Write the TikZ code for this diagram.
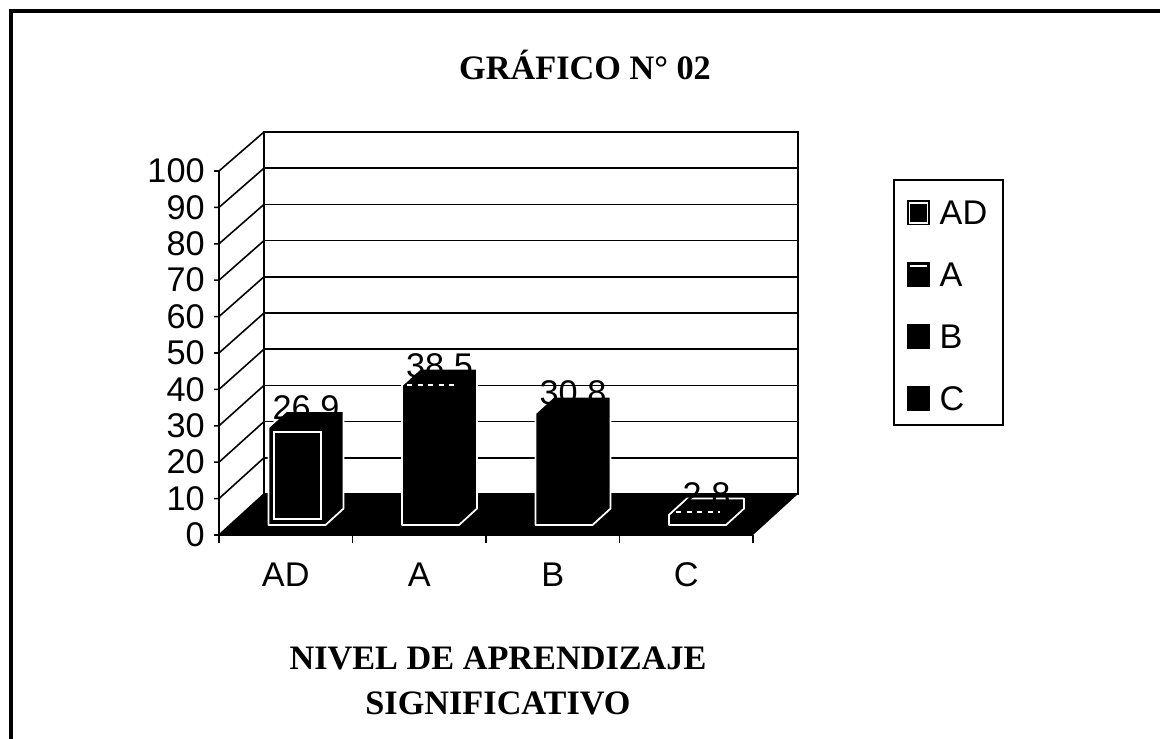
\documentclass[tikz,border=0pt]{standalone}
\usepackage{fontspec}
\setmainfont{Liberation Serif}
\newfontfamily\arialfont{Liberation Sans}
\usepackage{tikz}
\usetikzlibrary{positioning}

\begin{document}
\begin{tikzpicture}[x=0.02cm,y=-0.02cm,
    numlabel/.style={font=\arialfont\fontsize{19.5}{22}\selectfont,inner sep=0pt},
    headlabel/.style={font=\bfseries\fontsize{19.5}{26}\selectfont,inner sep=0pt,align=center},
    gridline/.style={line width=0.9pt},
    barface/.style={fill=black,draw=white,line width=1pt,line join=round},
    swatch/.style={fill=black,minimum width=0.46cm,minimum height=0.5cm,inner sep=0pt}]

        % Page
        \useasboundingbox (0,0) rectangle (1160,739);
        \draw[line width=1.8pt] (11,739) -- (11,11) -- (1160,11);

        % Title
        \node[headlabel] (title) at (585,65) {GRÁFICO N° 02};

        % Back wall and gridlines
        \draw[gridline] (264,132) rectangle (798,494);
        \foreach \v in {10,20,...,90} {
            \draw[gridline] (264,{494-3.62*\v}) -- (798,{494-3.62*\v});
        }

        % Side wall: axis, ticks, diagonals
        \draw[gridline] (219,171) -- (219,535);
        \foreach \v in {0,10,...,100} {
            \draw[gridline] (214,{535-3.64*\v}) -- (219,{535-3.64*\v}) -- (264,{494-3.62*\v});
            \node[numlabel,anchor=east] (y\v) at (205,{535-3.64*\v}) {\v};
        }

        % Floor
        \fill[black] (219,535) -- (753,535) -- (798,494) -- (264,494) -- cycle;
        \draw[gridline] (219,535) -- (753,535);
        \foreach \k in {0,...,4} {
            \draw[gridline] ({219+133.5*\k},535) -- ({219+133.5*\k},543);
        }

        % Bars
        \foreach \name/\k/\val in {AD/0/26.9, A/1/38.5, B/2/30.8, C/3/2.8} {
            \pgfmathsetmacro{\xl}{268.5+133.5*\k}
            \pgfmathsetmacro{\xr}{\xl+57}
            \pgfmathsetmacro{\h}{3.63*\val}
            \draw[barface] (\xl,525) -- (\xr,525) -- ({\xr+18},508.6) -- ({\xr+18},{508.6-\h})
                -- ({\xl+18},{508.6-\h}) -- (\xl,{525-\h}) -- cycle;
            \node[numlabel,anchor=base] (v\name) at ({\xl+37.5},{516.8-\h}) {\val};
        }
        % pattern lines on the bars
        \draw[white,line width=1pt] (274,432) rectangle (321,519);
        \draw[white,line width=1pt,dashed] (407,385) -- (457,385);
        \draw[white,line width=1pt,dashed] (676,512) -- (720,512);

        % Category labels
        \foreach \name/\k in {AD/0, A/1, B/2, C/3} {
            \node[numlabel] (x\name) at ({285.75+133.5*\k},575) {\name};
        }

        % Legend
        \draw[line width=1pt] (894,180) rectangle (1003,425);
        \foreach \name/\y in {AD/213, A/275, B/337, C/399} {
            \node[swatch] (sw\name) at (918.5,\y) {};
            \node[numlabel,right=0.18cm of sw\name] (lg\name) {\name};
        }
        \draw[white,line width=0.8pt] ([shift={(3,-3)}]swAD.south west) rectangle ([shift={(-3,3)}]swAD.north east);
        \draw[white,line width=0.8pt] ([shift={(3,4)}]swA.north west) -- ([shift={(-3,4)}]swA.north east);

        % Axis title
        \node[headlabel] (xtitle) at (498,681) {NIVEL DE APRENDIZAJE\\SIGNIFICATIVO};

    \end{tikzpicture}
\end{document}
